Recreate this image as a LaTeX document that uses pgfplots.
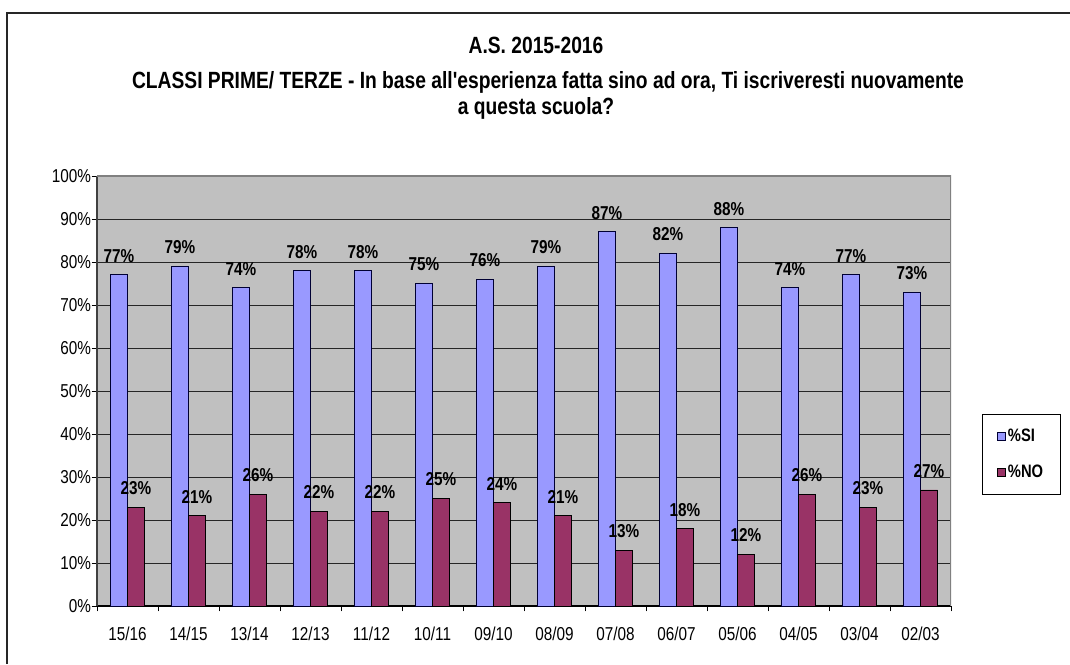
\documentclass[border=0pt]{standalone}
\usepackage{fontspec}
\setmainfont{Liberation Sans}[FakeStretch=0.82, Ligatures=TeXOff]
\usepackage{pgfplots}
\pgfplotsset{compat=1.18}
\definecolor{siblue}{RGB}{153,153,255}
\definecolor{nored}{RGB}{153,51,102}
\definecolor{plotbg}{RGB}{192,192,192}
\definecolor{bordergray}{RGB}{128,128,128}

\begin{document}
\begin{tikzpicture}[x=0.75pt,y=0.75pt]
\useasboundingbox (0,0) rectangle (1070,664);
\draw[line width=1.1pt, black!85] (7,0) -- (7,651) -- (1070,651);
\node[font=\fontsize{17.6}{20}\selectfont\bfseries] at (536,619) {A.S. 2015-2016};
\node[font=\fontsize{17.6}{20}\selectfont\bfseries] at (548,582) {CLASSI PRIME/ TERZE - In base all'esperienza fatta sino ad ora, Ti iscriveresti nuovamente};
\node[font=\fontsize{17.6}{20}\selectfont\bfseries] at (536,556) {a questa scuola?};
\begin{axis}[
  at={(72.75pt,43.5pt)}, anchor=south west, scale only axis,
  width=640.5pt, height=322.5pt,
  ymin=0, ymax=100, xmin=-0.5, xmax=13.5,
  ybar=0pt, bar width=12.75pt,
  axis background/.style={fill=plotbg},
  axis x line*=bottom, axis y line*=left,
  x axis line style={black, line width=0.8pt},
  y axis line style={black!75, line width=0.8pt},
  /pgf/number format/assume math mode=true,
  ytick={0,10,...,100},
  yticklabel={\pgfmathprintnumber{\tick}\%},
  ymajorgrids,
  major grid style={black!85, line width=0.7pt},
  xtick={0,...,13},
  xticklabels={15/16,14/15,13/14,12/13,11/12,10/11,09/10,08/09,07/08,06/07,05/06,04/05,03/04,02/03},
  minor xtick={-0.5,0.5,...,13.5},
  major x tick style={draw=none},
  tick align=outside,
  major tick length=4pt, minor tick length=4pt,
  tick style={black, line width=0.7pt},
  ticklabel style={font=\fontsize{14}{16}\selectfont},
  xticklabel style={yshift=-8pt},
  yticklabel style={xshift=3pt},
  nodes near coords={\pgfmathprintnumber{\pgfplotspointmeta}\%},
  every node near coord/.append style={font=\fontsize{14}{16}\selectfont\bfseries, inner sep=0pt, yshift=9pt, black},
  legend style={at={(1.036,0.353)}, anchor=west, draw=black, line width=0.5pt,
    font=\fontsize{13.5}{15}\selectfont\bfseries, inner xsep=11pt, inner ysep=9pt, row sep=12pt},
  legend cell align=left,
]
\addplot[fill=siblue, draw=black!80!blue, line width=0.6pt,
  legend image code/.code={\draw[fill=siblue, draw=black!80!blue, line width=0.4pt] (0pt,-3pt) rectangle (6pt,3pt);}]
  coordinates {(0,77) (1,79) (2,74) (3,78) (4,78) (5,75) (6,76) (7,79) (8,87) (9,82) (10,88) (11,74) (12,77) (13,73)};
\addplot[fill=nored, draw=black, line width=0.6pt,
  legend image code/.code={\draw[fill=nored, draw=black, line width=0.4pt] (0pt,-3pt) rectangle (6pt,3pt);}]
  coordinates {(0,23) (1,21) (2,26) (3,22) (4,22) (5,25) (6,24) (7,21) (8,13) (9,18) (10,12) (11,26) (12,23) (13,27)};
\legend{\%SI,\%NO}
\draw[bordergray, line width=1.3pt] (rel axis cs:0,1) -- (rel axis cs:1,1) -- (rel axis cs:1,0);
\end{axis}
\end{tikzpicture}
\end{document}
